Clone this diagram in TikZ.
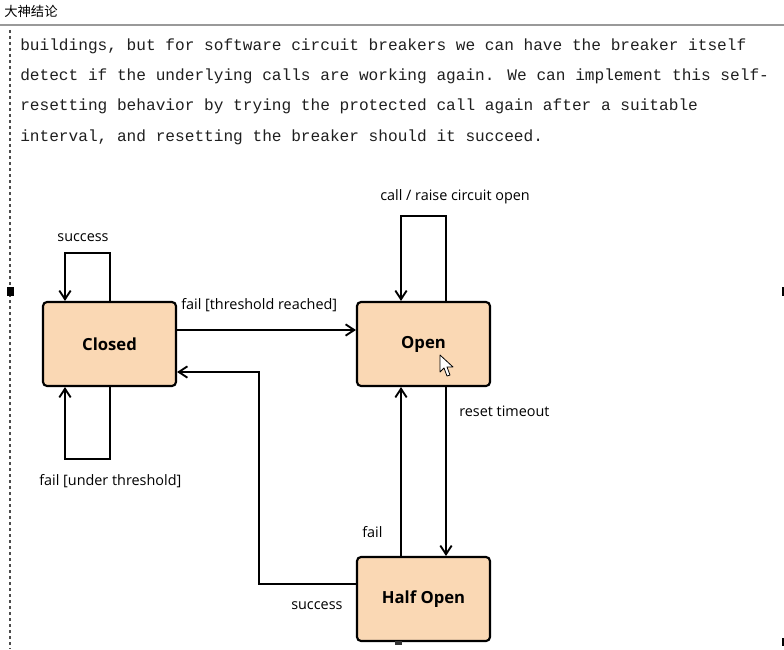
\documentclass[tikz,border=0pt]{standalone}
\usepackage{fontspec}
\setmainfont{Open Sans}
\newfontfamily\cjkfont{Noto Sans CJK SC}
\newfontfamily\monofont{Liberation Mono}
\usetikzlibrary{arrows.meta,calc}
\definecolor{peach}{RGB}{250,216,180}
\begin{document}
\begin{tikzpicture}[x=0.75pt,y=-0.75pt,
  state/.style={draw=black,line width=1.6pt,fill=peach,rounded corners=3pt,minimum width=99.75pt,minimum height=63pt,inner sep=0pt,font=\bfseries\fontsize{12.5}{14}\selectfont},
  arr/.style={line width=1.5pt,-{Straight Barb[length=6.5pt,width=8.5pt,line width=1.4pt]}},
  lbl/.style={anchor=west,inner sep=0pt,font=\fontsize{10.8}{12}\selectfont},
  body/.style={anchor=base west,inner sep=0pt,text=black!88,font=\monofont\fontsize{12.1}{14}\selectfont}]
\useasboundingbox (0,0) rectangle (784,649);
\fill[white] (0,0) rectangle (784,649);
% header
\node[anchor=base west,inner sep=0pt,font=\cjkfont\fontsize{10}{12}\selectfont] (title) at (4,17) {大神结论};
\draw[black!40,line width=0.8pt] (0,25) -- (784,25);
\draw[black!70,line width=1.2pt,dash pattern=on 2.25pt off 2.25pt] (10,30) -- (10,649);
\fill[black] (7,287) rectangle (14,296);
\fill[black] (782,287) rectangle (784,296);
\fill[black] (782,638) rectangle (784,646);
% body text
\node[body] (t1) at (20,51) {buildings, but for software circuit breakers we can have the breaker itself};
\node[body] (t2) at (20,81) {detect if the underlying calls are working again. We can implement this self-};
\node[body] (t3) at (20,111) {resetting behavior by trying the protected call again after a suitable};
\node[body] (t4) at (20,142) {interval, and resetting the breaker should it succeed.};
% states
\node[state] (closed) at (109.5,344) {Closed};
\node[state] (open) at (423.5,344) {Open};
\node[state] (half) at (423.5,599) {Half Open};
\fill[black!80] (395,641) rectangle (402,645);
% coordinates
\coordinate (cltop) at (65,253);
\coordinate (clbot) at (65,459);
\coordinate (y330) at (0,330);
\coordinate (y372) at (0,372);
\coordinate (hc) at (259,584);
\coordinate (otr) at (446,216);
\coordinate (otl) at (401,216);
% connectors
\draw[arr] (closed.north) |- (cltop) -- (closed.north -| cltop);
\draw[arr] (closed.south) |- (clbot) -- (closed.south -| clbot);
\draw[arr] (closed.east |- y330) -- (open.west |- y330);
\draw[arr] (half.west |- hc) -| (hc |- y372) -- (closed.east |- y372);
\draw[arr] (open.north -| otr) -- (otr) -- (otl) -- (open.north -| otl);
\draw[arr] (open.south -| otr) -- (half.north -| otr);
\draw[arr] (half.north -| otl) -- (open.south -| otl);
% labels
\node[lbl,anchor=center] (l1) at (83,238) {success};
\node[lbl] (l2) at (39,481) {fail [under threshold]};
\node[lbl] (l3) at (181,305) {fail [threshold reached]};
\node[lbl] (l4) at (291,606) {success};
\node[lbl] (l5) at (380,197) {call / raise circuit open};
\node[lbl] (l6) at (459,411) {reset timeout};
\node[lbl] (l7) at (362,532) {fail};
% cursor
\draw[fill=white,line width=0.6pt,line join=round] (440,355) -- (440,372) -- (444,368) -- (447,376) -- (450,375) -- (447,367) -- (453,367) -- cycle;
\end{tikzpicture}
\end{document}
